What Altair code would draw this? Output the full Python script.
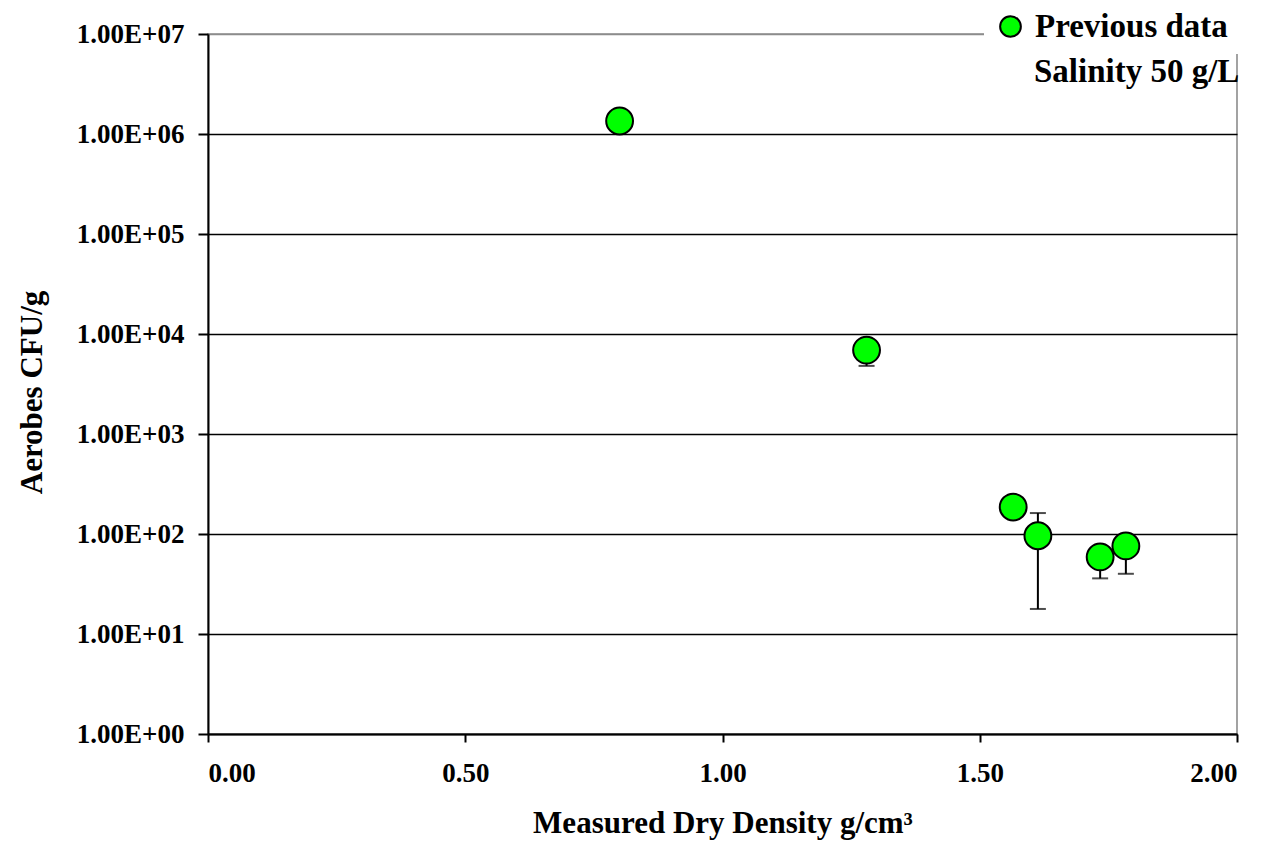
import altair as alt
import pandas as pd

# Data
density = [0.80, 1.28, 1.565, 1.613, 1.734, 1.784]
cfu = [1.35e6, 6.9e3, 186, 96, 59, 76]
err_low = [None, 4.8e3, None, 17.8, 36, 40]
err_high = [None, 6.9e3, None, 162, 59, 76]
series = "Previous data"
note = "Salinity 50 g/L"

y_ticks = [1, 10, 100, 1e3, 1e4, 1e5, 1e6, 1e7]
x_ticks = [0.0, 0.5, 1.0, 1.5, 2.0]

FONT = "Liberation Serif"

pts = pd.DataFrame({"density": density, "cfu": cfu, "series": [series] * len(density)})

err_rows = []
cap_rows = []
for i, (d, lo, hi) in enumerate(zip(density, err_low, err_high)):
    if lo is None:
        continue
    err_rows.append({"density": d, "lo": lo, "hi": hi})
    cap_rows.append({"density": d, "v": lo})
    if hi is not None and hi != cfu[i]:
        cap_rows.append({"density": d, "v": hi})
err = pd.DataFrame(err_rows)
caps = pd.DataFrame(cap_rows)

xscale = alt.Scale(domain=[0, 2], nice=False, zero=False)
yscale = alt.Scale(type="log", domain=[1, 1e7], nice=False)

xaxis = alt.Axis(
    values=x_ticks, format=".2f", grid=False, tickSize=8, tickWidth=2,
    tickColor="black", domainColor="black", domainWidth=2,
    labelPadding=18, title="Measured Dry Density g/cm³",
    titleBaseline="alphabetic", titleY=98,
)
yaxis = alt.Axis(
    values=y_ticks,
    labelExpr="'1.00E+0' + format(log(datum.value)/LN10, '.0f')",
    grid=True,
    gridColor={"condition": {"test": "datum.value >= 9999999", "value": "#8c8c8c"}, "value": "black"},
    gridWidth=1.6, tickSize=10, tickWidth=2, tickColor="black",
    domainColor="black", domainWidth=2, labelPadding=14,
    title="Aerobes CFU/g", titleBaseline="alphabetic", titleX=-167, titleY=358,
)

rules = alt.Chart(err).mark_rule(color="black", strokeWidth=2).encode(
    x=alt.X("density:Q", scale=xscale, axis=xaxis),
    y=alt.Y("lo:Q", scale=yscale, axis=yaxis),
    y2="hi:Q",
)
capmarks = alt.Chart(caps).mark_tick(
    color="black", orient="horizontal", size=16, thickness=2
).encode(
    x=alt.X("density:Q", scale=xscale),
    y=alt.Y("v:Q", scale=yscale),
)
points = alt.Chart(pts).mark_circle(
    size=720, opacity=1, stroke="black", strokeWidth=2
).encode(
    x=alt.X("density:Q", scale=xscale),
    y=alt.Y("cfu:Q", scale=yscale),
    color=alt.Color(
        "series:N",
        scale=alt.Scale(domain=[series], range=["#00ff00"]),
        legend=alt.Legend(
            title=None, orient="none", legendX=776, legendY=-34,
            fillColor="white", padding=10, symbolType="circle", symbolSize=430,
            symbolStrokeColor="black", symbolStrokeWidth=2, symbolOpacity=1,
            labelFont=FONT, labelFontSize=33, labelFontWeight="bold",
            labelColor="black", labelOffset=8, labelLimit=400,
        ),
    ),
)
note_text = alt.Chart(pd.DataFrame({"t": [note]})).mark_text(
    font=FONT, fontSize=33, fontWeight="bold", color="black",
    align="left", baseline="alphabetic",
).encode(text="t:N", x=alt.value(826), y=alt.value(48))

chart = (
    alt.layer(rules, capmarks, points, note_text)
    .properties(
        width=1029, height=700,
        background="white",
        autosize=alt.AutoSizeParams(type="none"),
        padding={"left": 200, "top": 26, "right": 18, "bottom": 108},
    )
    .configure_view(stroke="#8c8c8c", strokeWidth=1.6)
    .configure_axis(
        labelFont=FONT, labelFontSize=27, labelFontWeight="bold", labelColor="black",
        titleFont=FONT, titleFontSize=31, titleFontWeight="bold", titleColor="black",
    )
)

chart.save("out.html", embed_options={"renderer": "svg", "actions": False})
